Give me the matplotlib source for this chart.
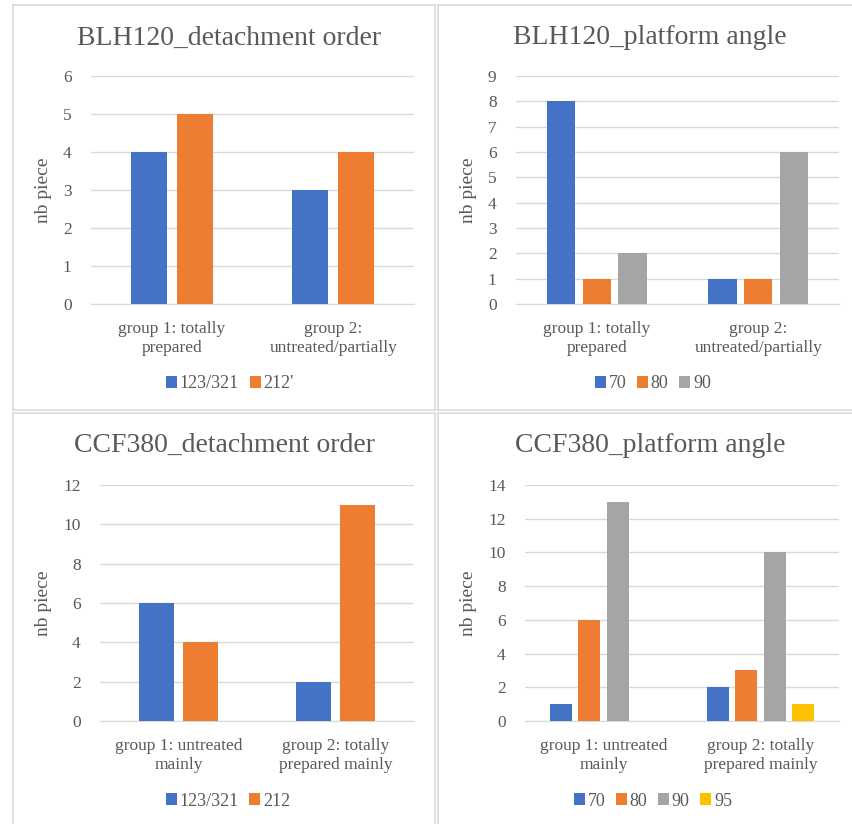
import numpy as np
import matplotlib.pyplot as plt
from matplotlib.lines import Line2D

''' Data '''
blh_order_groups = ['group 1: totally\nprepared', 'group 2:\nuntreated/partially']
blh_order_series = ['123/321', "212'"]
blh_order_values = [[4, 3], [5, 4]]

blh_angle_groups = ['group 1: totally\nprepared', 'group 2:\nuntreated/partially']
blh_angle_series = ['70', '80', '90']
blh_angle_values = [[8, 1], [1, 1], [2, 6]]

ccf_order_groups = ['group 1: untreated\nmainly', 'group 2: totally\nprepared mainly']
ccf_order_series = ['123/321', '212']
ccf_order_values = [[6, 2], [4, 11]]

ccf_angle_groups = ['group 1: untreated\nmainly', 'group 2: totally\nprepared mainly']
ccf_angle_series = ['70', '80', '90', '95']
ccf_angle_values = [[1, 2], [6, 3], [13, 10], [0, 1]]

colors = ['#4472C4', '#ED7D31', '#A5A5A5', '#FFC000']
txt = '#595959'
grid = '#D9D9D9'

plt.rcParams['font.family'] = ['Liberation Serif', 'DejaVu Serif']

W, H = 853, 824
fig = plt.figure(figsize=(W / 100, H / 100), dpi=100)


def px_axes(x0, y0, x1, y1):
    return fig.add_axes([x0 / W, 1 - y1 / H, (x1 - x0) / W, (y1 - y0) / H])


def draw_panel(box, title, title_xy, legend_xy, groups, series, values, ymax, ystep):
    ax = px_axes(*box)
    n = len(series)
    w = 1 / (n + 0.27 * (n - 1) + 2.19)
    x = np.arange(len(groups))
    for i, (name, vals) in enumerate(zip(series, values)):
        off = (i - (n - 1) / 2) * w * 1.27
        ax.bar(x + off, vals, width=w, color=colors[i], label=name, zorder=3)
    ax.set_xlim(-0.5, len(groups) - 0.5)
    ax.set_ylim(0, ymax)
    ax.set_yticks(np.arange(0, ymax + 0.1, ystep))
    ax.set_xticks(x)
    ax.set_xticklabels(groups, fontsize=12.5, color=txt, linespacing=1.3)
    ax.tick_params(axis='both', length=0, labelcolor=txt, labelsize=12.5)
    ax.tick_params(axis='x', pad=12)
    ax.tick_params(axis='y', pad=14)
    ax.grid(axis='y', color=grid, linewidth=1, zorder=0)
    for s in ['top', 'right', 'left']:
        ax.spines[s].set_visible(False)
    ax.spines['bottom'].set_color(grid)
    ax.set_ylabel('nb piece', fontsize=14, color=txt, labelpad=8)
    fig.text(title_xy[0] / W, 1 - title_xy[1] / H, title, fontsize=20, color=txt,
             ha='center', va='center')
    ax.legend(loc='center', bbox_to_anchor=(legend_xy[0] / W, 1 - legend_xy[1] / H),
              bbox_transform=fig.transFigure, ncol=n, frameon=False, fontsize=13,
              labelcolor=txt, handlelength=0.6, handleheight=0.6, handletextpad=0.15,
              columnspacing=0.6)
    return ax


draw_panel((91, 76, 414, 304), 'BLH120_detachment order', (229, 38), (230, 384),
           blh_order_groups, blh_order_series, blh_order_values, 6, 1)
draw_panel((516, 76, 839, 304), 'BLH120_platform angle', (650, 38), (653, 384),
           blh_angle_groups, blh_angle_series, blh_angle_values, 9, 1)
draw_panel((100, 485, 414, 721), 'CCF380_detachment order', (225, 445), (228, 801),
           ccf_order_groups, ccf_order_series, ccf_order_values, 12, 2)
draw_panel((525, 485, 839, 721), 'CCF380_platform angle', (650, 445), (653, 801),
           ccf_angle_groups, ccf_angle_series, ccf_angle_values, 14, 2)

# panel frames
frame_lines = [
    ((13, 435), (5, 5)), ((438, 853), (5, 5)),
    ((13, 435), (410, 410)), ((438, 853), (410, 410)),
    ((13, 435), (413, 413)), ((438, 853), (413, 413)),
    ((13, 13), (5, 410)), ((13, 13), (413, 824)),
    ((435, 435), (5, 410)), ((435, 435), (413, 824)),
    ((438, 438), (5, 410)), ((438, 438), (413, 824)),
]
for xs, ys in frame_lines:
    fig.add_artist(Line2D([v / W for v in xs], [1 - v / H for v in ys],
                          transform=fig.transFigure, color=grid, linewidth=1.2))

fig.savefig('out.png', dpi=100)
